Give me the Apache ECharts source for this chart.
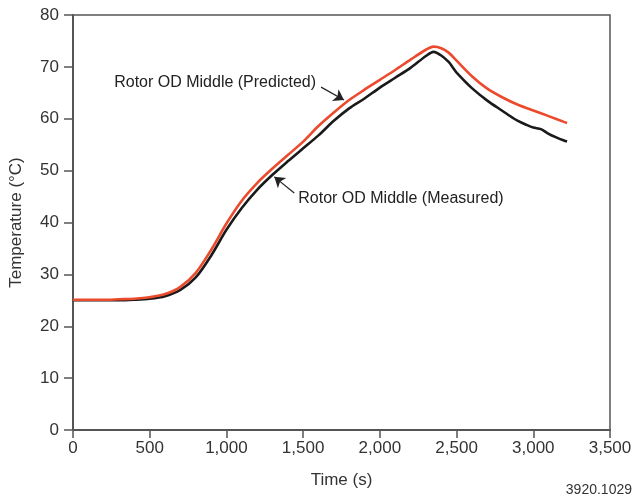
<!DOCTYPE html>
<html>
<head>
<meta charset="utf-8">
<script src="https://cdn.jsdelivr.net/npm/echarts@6/dist/echarts.min.js"></script>
<style>
  html, body { margin: 0; padding: 0; background: #fff; }
  #chart { width: 636px; height: 501px; }
</style>
</head>
<body>
<div id="chart"></div>
<script>
// time (s)
var timeS = [0, 100, 200, 300, 400, 500, 600, 700, 800, 900, 1000, 1100, 1200, 1300, 1400,
  1500, 1600, 1700, 1800, 1900, 2000, 2100, 2200, 2300, 2350, 2400, 2450, 2500, 2600,
  2700, 2800, 2900, 3000, 3100, 3200, 3220];
// predicted temperature (°C)
var predicted = [25.1, 25.1, 25.1, 25.2, 25.3, 25.6, 26.2, 27.6, 30.3, 34.7, 39.8, 44.2, 47.6,
  50.4, 53.0, 55.6, 58.6, 61.2, 63.6, 65.6, 67.5, 69.4, 71.4, 73.3, 73.9, 73.6, 72.7, 71.2,
  68.2, 65.8, 64.1, 62.7, 61.6, 60.5, 59.4, 59.2];

// measured has a few more points at the tail (wiggles)
var timeM = [0, 100, 200, 300, 400, 500, 600, 700, 800, 900, 1000, 1100, 1200, 1300, 1400,
  1500, 1600, 1700, 1800, 1900, 2000, 2100, 2200, 2300, 2350, 2400, 2450, 2480, 2500, 2600,
  2700, 2800, 2870, 2900, 2950, 3000, 3050, 3100, 3150, 3200, 3220];
var measured = [25.0, 25.0, 25.0, 25.0, 25.1, 25.3, 25.8, 27.0, 29.4, 33.6, 38.6, 42.8, 46.3,
  49.2, 51.8, 54.3, 56.8, 59.6, 62.0, 63.9, 66.0, 67.9, 69.8, 72.1, 72.9, 72.2, 70.9, 69.7,
  68.9, 65.9, 63.5, 61.5, 60.1, 59.6, 58.9, 58.3, 58.0, 57.1, 56.4, 55.8, 55.6];

var xTicks = [0, 500, 1000, 1500, 2000, 2500, 3000, 3500];
var yTicks = [0, 10, 20, 30, 40, 50, 60, 70, 80];

// annotation anchors in data units: [label point, arrow tail, arrow tip]
var notePredicted = { text: 'Rotor OD Middle (Predicted)', at: [1584, 66.9], from: [1617, 66.1], to: [1766, 63.6] };
var noteMeasured = { text: 'Rotor OD Middle (Measured)', at: [1468, 44.7], from: [1442, 45.7], to: [1312, 48.8] };

var FONT = '"Liberation Sans", Arial, sans-serif';

function zip(xs, ys) {
  return xs.map(function (x, i) { return [x, ys[i]]; });
}

function arrow(note) {
  return {
    silent: true,
    symbol: ['none', 'arrow'],
    symbolSize: 10,
    label: { show: false },
    lineStyle: { color: '#222', width: 1.2, type: 'solid' },
    itemStyle: { color: '#222' },
    data: [[{ coord: note.from }, { coord: note.to }]]
  };
}

var chart = echarts.init(document.getElementById('chart'), null, { renderer: 'canvas' });

var opt = {
  animation: false,
  textStyle: { fontFamily: FONT },
  grid: {
    left: 71, right: 26, top: 15, bottom: 71,
    show: true, borderColor: '#555', borderWidth: 1.5
  },
  xAxis: {
    type: 'value',
    min: xTicks[0], max: xTicks[xTicks.length - 1], interval: 500,
    name: 'Time (s)', nameLocation: 'middle', nameGap: 42,
    nameTextStyle: { fontSize: 17, color: '#333', fontFamily: FONT },
    axisLine: { lineStyle: { color: '#555', width: 2 } },
    axisTick: { inside: false, length: 8, lineStyle: { color: '#555', width: 1.5 } },
    splitLine: { show: false },
    axisLabel: {
      fontSize: 17, color: '#333', margin: 10, fontFamily: FONT,
      formatter: function (v) { return String(v).replace(/\B(?=(\d{3})+(?!\d))/g, ','); }
    }
  },
  yAxis: {
    type: 'value',
    min: yTicks[0], max: yTicks[yTicks.length - 1], interval: 10,
    name: 'Temperature (°C)', nameLocation: 'middle', nameGap: 48,
    nameTextStyle: { fontSize: 17, color: '#333', fontFamily: FONT },
    axisLine: { show: true, lineStyle: { color: '#555', width: 2 } },
    axisTick: { show: true, inside: false, length: 9, lineStyle: { color: '#555', width: 1.5 } },
    splitLine: { show: false },
    axisLabel: { fontSize: 17, color: '#333', margin: 14, fontFamily: FONT }
  },
  series: [
    {
      name: 'Measured',
      type: 'line',
      data: zip(timeM, measured),
      showSymbol: false,
      smooth: 0.3,
      lineStyle: { color: '#1a1a1a', width: 2.6 },
      markLine: arrow(noteMeasured),
      z: 2
    },
    {
      name: 'Predicted',
      type: 'line',
      data: zip(timeS, predicted),
      showSymbol: false,
      smooth: 0.3,
      lineStyle: { color: '#ec4a2c', width: 2.6 },
      markLine: arrow(notePredicted),
      z: 3
    }
  ]
};

chart.setOption(opt);

// labels placed through the chart's own scales
var pP = chart.convertToPixel({ gridIndex: 0 }, notePredicted.at);
var pM = chart.convertToPixel({ gridIndex: 0 }, noteMeasured.at);
chart.setOption({
  graphic: [
    {
      type: 'text', x: pP[0], y: pP[1],
      style: { text: notePredicted.text, fill: '#222', font: '16px ' + FONT, align: 'right', verticalAlign: 'middle' }
    },
    {
      type: 'text', x: pM[0], y: pM[1],
      style: { text: noteMeasured.text, fill: '#222', font: '16px ' + FONT, align: 'left', verticalAlign: 'middle' }
    },
    {
      type: 'text', right: 4, bottom: 4,
      style: { text: '3920.1029', fill: '#333', font: '14px ' + FONT }
    }
  ]
});
</script>
</body>
</html>
